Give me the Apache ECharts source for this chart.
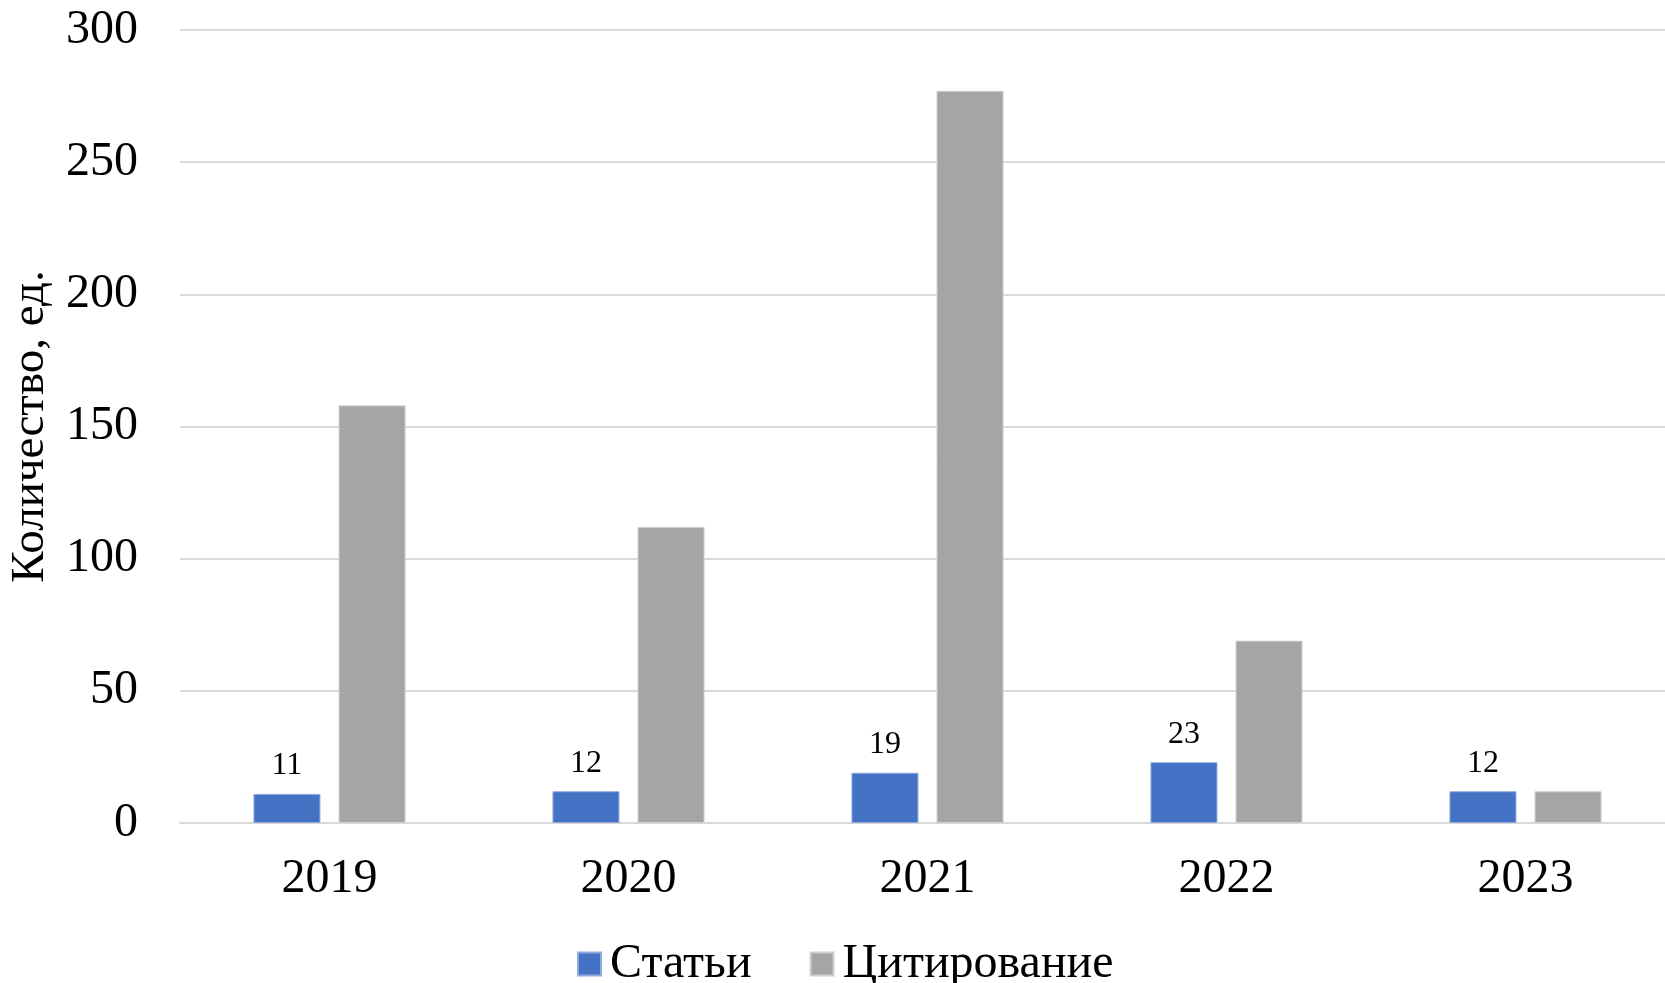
<!DOCTYPE html>
<html>
<head>
<meta charset="utf-8">
<script src="https://cdn.jsdelivr.net/npm/echarts@6/dist/echarts.min.js"></script>
<style>
  html, body { margin: 0; padding: 0; background: #fff; }
  #chart { width: 1665px; height: 983px; }
</style>
</head>
<body>
<div id="chart"></div>
<script>
const years = ['2019', '2020', '2021', '2022', '2023']
const articles = [11, 12, 19, 23, 12]
const citations = [158, 112, 277, 69, 12]

const font = '"Liberation Serif", "Times New Roman", serif'
const chart = echarts.init(document.getElementById('chart'))

chart.setOption({
  backgroundColor: '#fff',
  animation: false,
  textStyle: { fontFamily: font, color: '#000' },
  grid: {
    left: 180, right: -10, top: 30, bottom: 160,
    containLabel: false,
    outerBoundsMode: 'none',
  },
  legend: {
    left: 572,
    top: 935,
    itemWidth: 23,
    itemHeight: 23,
    itemGap: 58,
    icon: 'rect',
    textStyle: { fontFamily: font, fontSize: 48, color: '#000', padding: [0, 0, 0, 4] },
  },
  xAxis: {
    type: 'category',
    data: years,
    axisTick: { show: false },
    axisLine: { lineStyle: { color: '#d9d9d9', width: 2 } },
    axisLabel: { fontFamily: font, fontSize: 48, color: '#000', margin: 32 },
  },
  yAxis: {
    type: 'value',
    min: 0,
    max: 300,
    interval: 50,
    name: 'Количество, ед.',
    nameLocation: 'middle',
    nameGap: 126,
    nameTextStyle: { fontFamily: font, fontSize: 47, color: '#000' },
    axisLine: { show: false },
    axisTick: { show: false },
    splitLine: { lineStyle: { color: '#d9d9d9', width: 2 } },
    axisLabel: { fontFamily: font, fontSize: 48, color: '#000', margin: 42 },
  },
  series: [
    {
      name: 'Статьи',
      type: 'bar',
      data: articles,
      barWidth: 67,
      barGap: '27%',
      itemStyle: { color: '#4472c4', borderColor: '#8faadc', borderWidth: 1 },
      label: {
        show: true,
        position: 'top',
        distance: 12,
        fontFamily: font,
        fontSize: 32,
        color: '#000',
      },
    },
    {
      name: 'Цитирование',
      type: 'bar',
      data: citations,
      barWidth: 67,
      itemStyle: { color: '#a5a5a5', borderColor: '#d0d0d0', borderWidth: 1 },
    },
  ],
})
</script>
</body>
</html>
